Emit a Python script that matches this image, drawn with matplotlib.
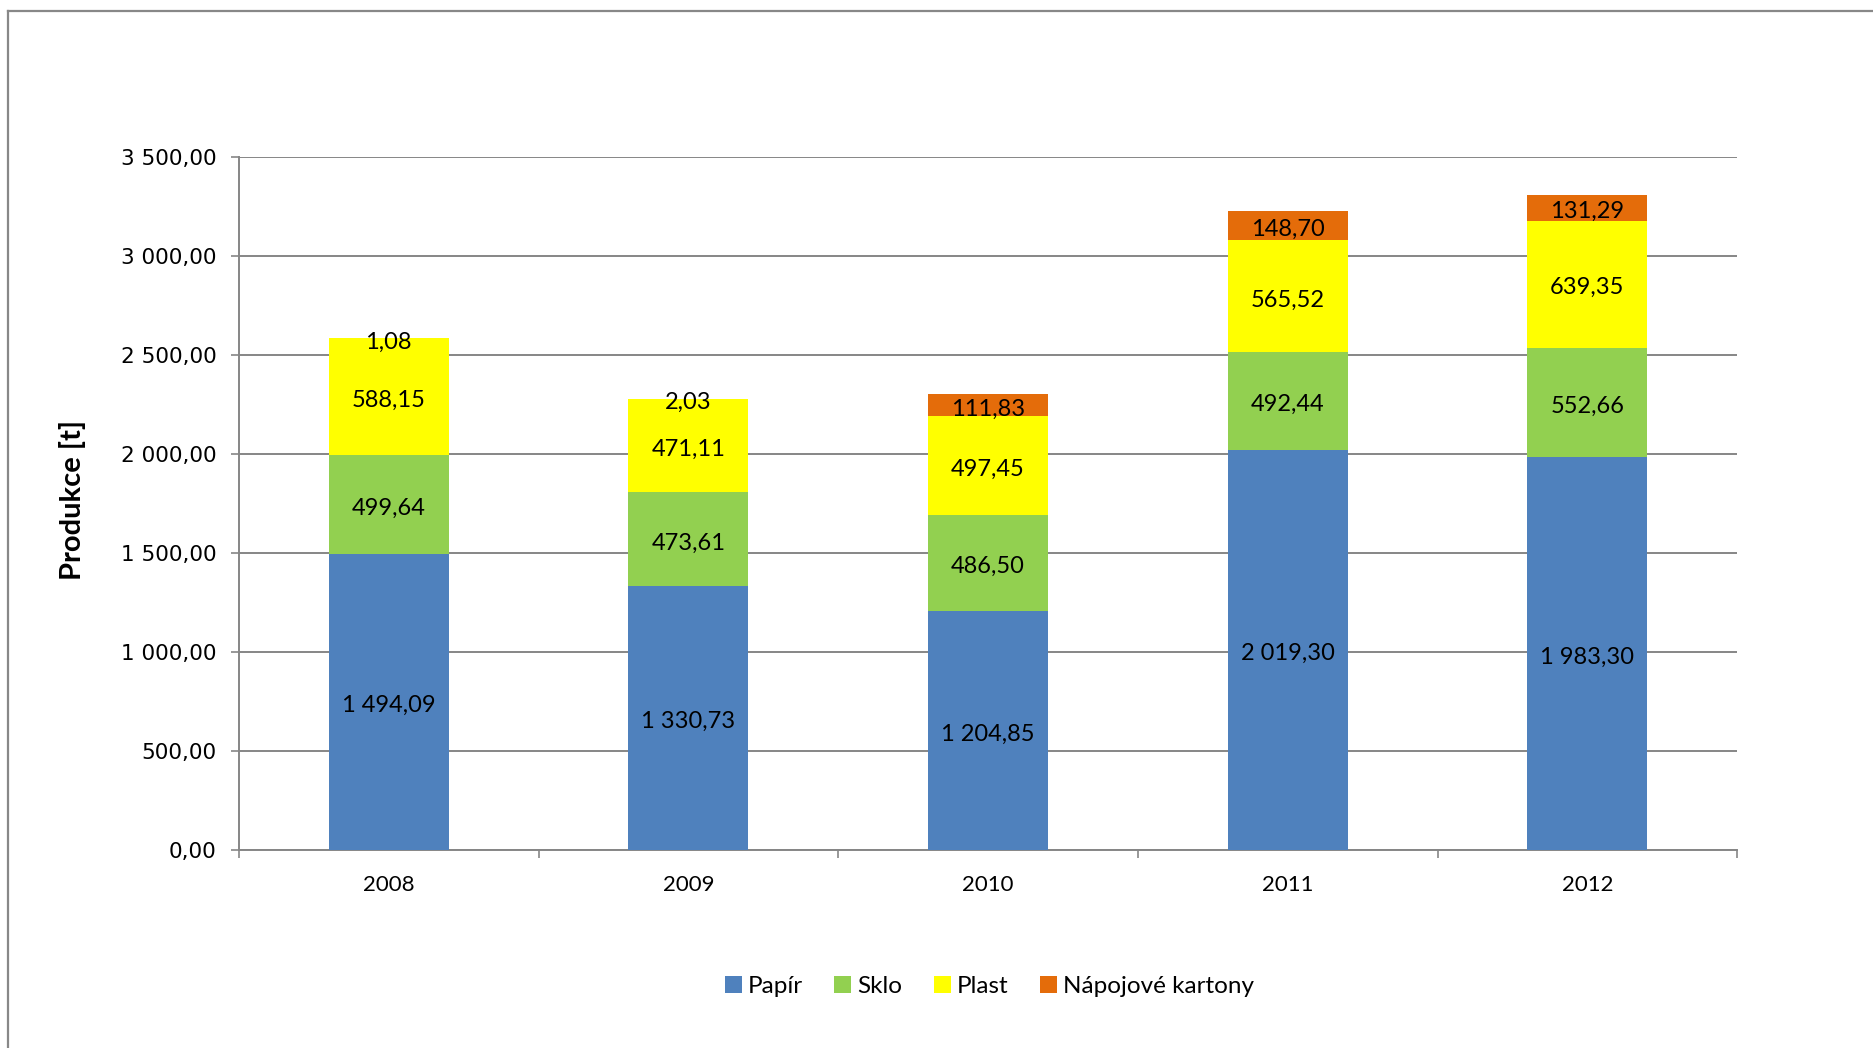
import matplotlib
matplotlib.use("Agg")
import matplotlib.pyplot as plt
from matplotlib.lines import Line2D
from matplotlib.patches import Patch
import numpy as np

# Data: production of sorted waste components [t]
years = ["2008", "2009", "2010", "2011", "2012"]
papir = [1494.09, 1330.73, 1204.85, 2019.30, 1983.30]
sklo = [499.64, 473.61, 486.50, 492.44, 552.66]
plast = [588.15, 471.11, 497.45, 565.52, 639.35]
kartony = [1.08, 2.03, 111.83, 148.70, 131.29]

series_names = ["Papír", "Sklo", "Plast", "Nápojové kartony"]
series_colors = ["#4F81BD", "#92D050", "#FFFF00", "#E46C0A"]
y_ticks = [0, 500, 1000, 1500, 2000, 2500, 3000, 3500]

LABEL_FONT = ["Lato", "DejaVu Sans"]
TICK_FONT = ["DejaVu Sans"]


def cz_number(v):
    # Czech formatting: space as thousands separator, comma as decimal mark
    s = f"{v:,.2f}"
    return s.replace(",", " ").replace(".", ",")


fig = plt.figure(figsize=(18.74, 10.48), dpi=100)
ax = fig.add_axes([0.1275, 0.189, 0.7995, 0.6616])

x = np.arange(len(years))
bottom = np.zeros(len(years))
for name, vals, col in zip(series_names, [papir, sklo, plast, kartony], series_colors):
    vals = np.array(vals)
    ax.bar(x, vals, width=0.4, bottom=bottom, color=col, edgecolor="none",
           zorder=3, label=name)
    for xi, b, v in zip(x, bottom, vals):
        ax.annotate(cz_number(v), (xi, b + v / 2), xytext=(0, -2.6),
                    textcoords="offset points", ha="center", va="center",
                    fontsize=17, family=LABEL_FONT, color="black", zorder=4)
    bottom += vals

ax.set_xlim(-0.5, len(years) - 0.5)
ax.set_ylim(0, 3500)

# y axis
ax.set_yticks(y_ticks)
ax.set_yticklabels([cz_number(v) for v in y_ticks], family=TICK_FONT, fontsize=15.5)
ax.tick_params(axis="y", direction="out", length=6, width=1.2, color="#868686", pad=10)
ax.yaxis.grid(True, color="#868686", linewidth=1.4, zorder=0)

# x axis: category labels centered, tick marks between categories
ax.set_xticks(x)
ax.set_xticklabels(years, family=LABEL_FONT, fontsize=16)
ax.tick_params(axis="x", which="major", length=0, pad=18)
ax.set_xticks(np.arange(-0.5, len(years)), minor=True)
ax.tick_params(axis="x", which="minor", direction="out", length=6, width=1.2,
               color="#868686")

for side in ["top", "right"]:
    ax.spines[side].set_visible(False)
for side in ["left", "bottom"]:
    ax.spines[side].set_color("#868686")
    ax.spines[side].set_linewidth(1.4)
ax.set_axisbelow(True)

ax.set_ylabel("Produkce [t]", family=LABEL_FONT, fontsize=21, fontweight="bold")
ax.yaxis.set_label_coords(-0.102, 0.505)

# legend with square markers
handles = [Patch(facecolor=c, edgecolor="none", label=n)
           for n, c in zip(series_names, series_colors)]
fig.legend(handles=handles, loc="center", bbox_to_anchor=(0.528, 0.059), ncol=4,
           frameon=False, prop={"family": LABEL_FONT, "size": 17.5},
           handlelength=0.7, handleheight=0.7, handletextpad=0.25, columnspacing=1.3)

# chart-area frame (left and top edges)
fx = 8.5 / 1874
fy = 1 - 10.5 / 1048
fig.add_artist(Line2D([fx, fx], [0, fy], transform=fig.transFigure,
                      color="#888888", linewidth=1.6))
fig.add_artist(Line2D([fx, 1], [fy, fy], transform=fig.transFigure,
                      color="#888888", linewidth=1.6))

fig.savefig("out.png", dpi=100)
